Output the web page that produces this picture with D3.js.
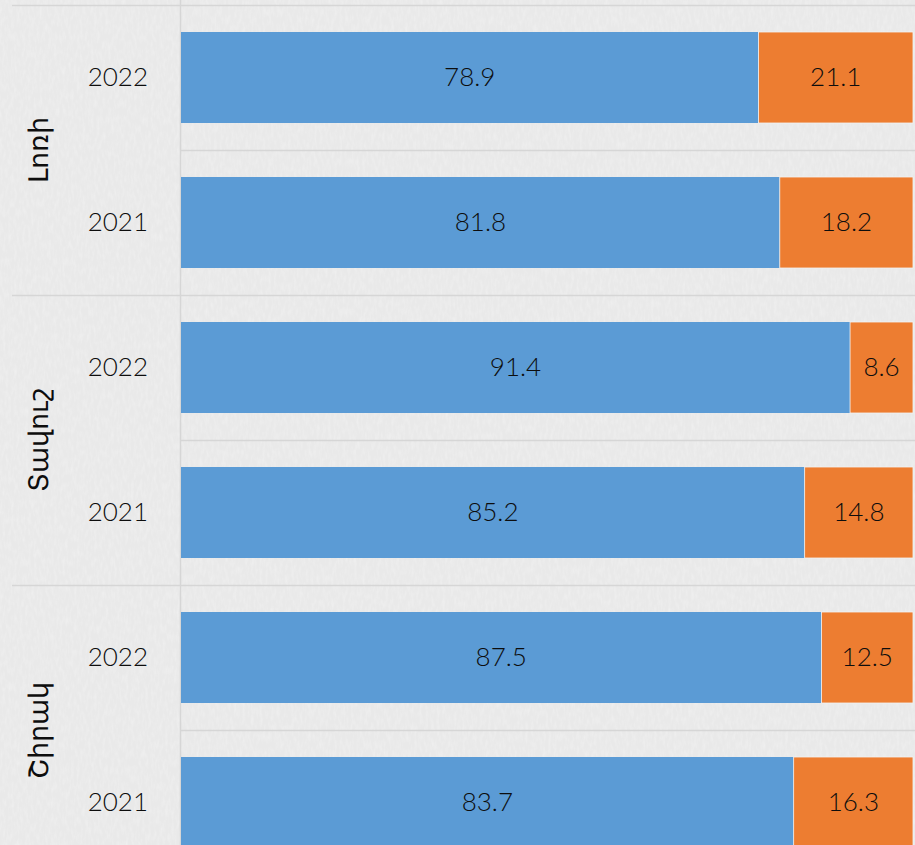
<!DOCTYPE html>
<html>
<head>
<meta charset="utf-8">
<script src="https://cdn.jsdelivr.net/npm/d3@7"></script>
<style>
  html, body { margin: 0; padding: 0; background: #ebebeb; }
  svg { display: block; }
  text { font-family: Lato, "Open Sans", sans-serif; font-weight: 300; fill: #0d0d0d; }
</style>
</head>
<body>
<div id="chart"></div>
<script>
// data
const regions = ['Լոռի', 'Տավուշ', 'Շիրակ'];
const years = ['2022', '2021'];
const blueValues = [78.9, 81.8, 91.4, 85.2, 87.5, 83.7];
const orangeValues = [21.1, 18.2, 8.6, 14.8, 12.5, 16.3];

const width = 915;
const height = 845;
const plotLeft = 181;
const plotRight = 913;
const plotTop = 5;
const band = 145;

const rows = [];
regions.forEach((r, i) => {
    years.forEach((yr, j) => {
        const k = i * years.length + j;
        rows.push({ key: r + '-' + yr, region: r, year: yr, blue: blueValues[k], orange: orangeValues[k] });
    });
});

const svg = d3.select('#chart')
    .append('svg')
    .attr('width', width)
    .attr('height', height);

// paper-ish texture
const defs = svg.append('defs');
const filter = defs.append('filter').attr('id', 'paper').attr('x', 0).attr('y', 0).attr('width', '100%').attr('height', '100%');
filter.append('feTurbulence')
    .attr('type', 'fractalNoise')
    .attr('baseFrequency', '0.35 0.12')
    .attr('numOctaves', 2)
    .attr('seed', 3);
filter.append('feColorMatrix')
    .attr('type', 'matrix')
    .attr('values', '0 0 0 0 1  0 0 0 0 1  0 0 0 0 1  0 0 0 0.9 -0.35');

svg.append('rect').attr('width', width).attr('height', height).attr('fill', '#e9e9e9');
svg.append('rect').attr('width', width).attr('height', height).attr('filter', 'url(#paper)').attr('opacity', 0.55);

const x = d3.scaleLinear().domain([0, 100]).range([plotLeft, plotRight]);
const y = d3.scaleBand()
    .domain(rows.map(d => d.key))
    .range([plotTop, plotTop + band * rows.length])
    .paddingInner(54 / 145)
    .paddingOuter(27 / 145);

// row grid lines (inner ones only in plot area, group lines extend left)
const lineYs = d3.range(rows.length + 1).map(i => plotTop + i * band);
svg.append('g').selectAll('line')
    .data(lineYs)
    .join('line')
    .attr('x1', (d, i) => i % 2 === 0 ? 12 : plotLeft)
    .attr('x2', width)
    .attr('y1', d => d + 0.5)
    .attr('y2', d => d + 0.5)
    .attr('stroke', '#d6d6d6')
    .attr('stroke-width', 1.5);

svg.append('line')
    .attr('x1', plotLeft - 0.5).attr('x2', plotLeft - 0.5)
    .attr('y1', 0).attr('y2', height)
    .attr('stroke', '#d6d6d6')
    .attr('stroke-width', 1.5);

// bars
const barG = svg.append('g');
const rowG = barG.selectAll('g')
    .data(rows)
    .join('g')
    .attr('transform', d => `translate(0,${y(d.key)})`);

rowG.append('rect')
    .attr('x', x(0))
    .attr('width', d => x(d.blue) - x(0))
    .attr('height', y.bandwidth())
    .attr('fill', '#5b9bd5');

rowG.append('rect')
    .attr('x', d => x(d.blue))
    .attr('width', d => x(d.blue + d.orange) - x(d.blue))
    .attr('height', y.bandwidth())
    .attr('fill', '#ed7d31')
    .attr('stroke', '#f3f3f3')
    .attr('stroke-width', 0.8);

const labelDy = y.bandwidth() / 2 - 2;

rowG.append('text')
    .attr('x', d => (x(0) + x(d.blue)) / 2)
    .attr('y', labelDy)
    .attr('text-anchor', 'middle')
    .attr('dominant-baseline', 'central')
    .attr('font-size', 26)
    .text(d => d.blue.toFixed(1));

rowG.append('text')
    .attr('x', d => (x(d.blue) + x(d.blue + d.orange)) / 2)
    .attr('y', labelDy)
    .attr('text-anchor', 'middle')
    .attr('dominant-baseline', 'central')
    .attr('font-size', 26)
    .text(d => d.orange.toFixed(1));

// year labels
svg.append('g').selectAll('text')
    .data(rows)
    .join('text')
    .attr('x', 148)
    .attr('y', d => y(d.key) + labelDy)
    .attr('text-anchor', 'end')
    .attr('dominant-baseline', 'central')
    .attr('font-size', 26)
    .text(d => d.year);

// region labels, rotated
svg.append('g').selectAll('text')
    .data(regions)
    .join('text')
    .attr('transform', (d, i) => `translate(37,${plotTop + band * (2 * i + 1)}) rotate(-90)`)
    .attr('text-anchor', 'middle')
    .attr('dominant-baseline', 'central')
    .attr('font-size', 27)
    .text(d => d);
</script>
</body>
</html>
